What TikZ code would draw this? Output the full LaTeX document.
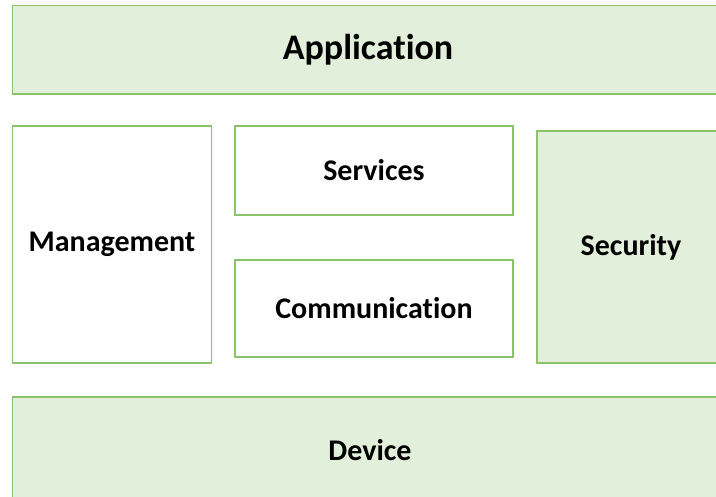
\documentclass[tikz,border=0pt]{standalone}
\usepackage{fontspec}
\setmainfont{Carlito}[Ligatures=NoCommon]
\usetikzlibrary{positioning}
\definecolor{layerline}{HTML}{8CC26A}
\definecolor{layerfill}{HTML}{E2EFDA}
\tikzset{layer box/.style={draw=layerline, line width=1.2pt, rectangle, inner sep=0pt, font=\bfseries\fontsize{30}{36}\selectfont}}
\tikzset{filled layer/.style={layer box, fill=layerfill}}

\begin{document}
\begin{tikzpicture}[x=1pt, y=-1pt]
\useasboundingbox (0,0) rectangle (716,497);
\node[filled layer, minimum width=711pt, minimum height=88.5pt, font=\bfseries\fontsize{36}{40}\selectfont] (app) at (368,49.75) {Application};
\node[layer box, minimum width=198.5pt, minimum height=237pt] (mgmt) at (112,244.5) {Management};
\node[layer box, minimum width=278pt, minimum height=89pt] (serv) at (374,170.5) {Services};
\node[layer box, minimum width=278pt, minimum height=97pt] (comm) at (374,308.5) {Communication};
\node[filled layer, minimum width=188pt, minimum height=232pt] (sec) at (631,247) {Security};
\node[filled layer, minimum width=715pt, minimum height=106pt] (dev) at (370,450) {Device};
\end{tikzpicture}
\end{document}
